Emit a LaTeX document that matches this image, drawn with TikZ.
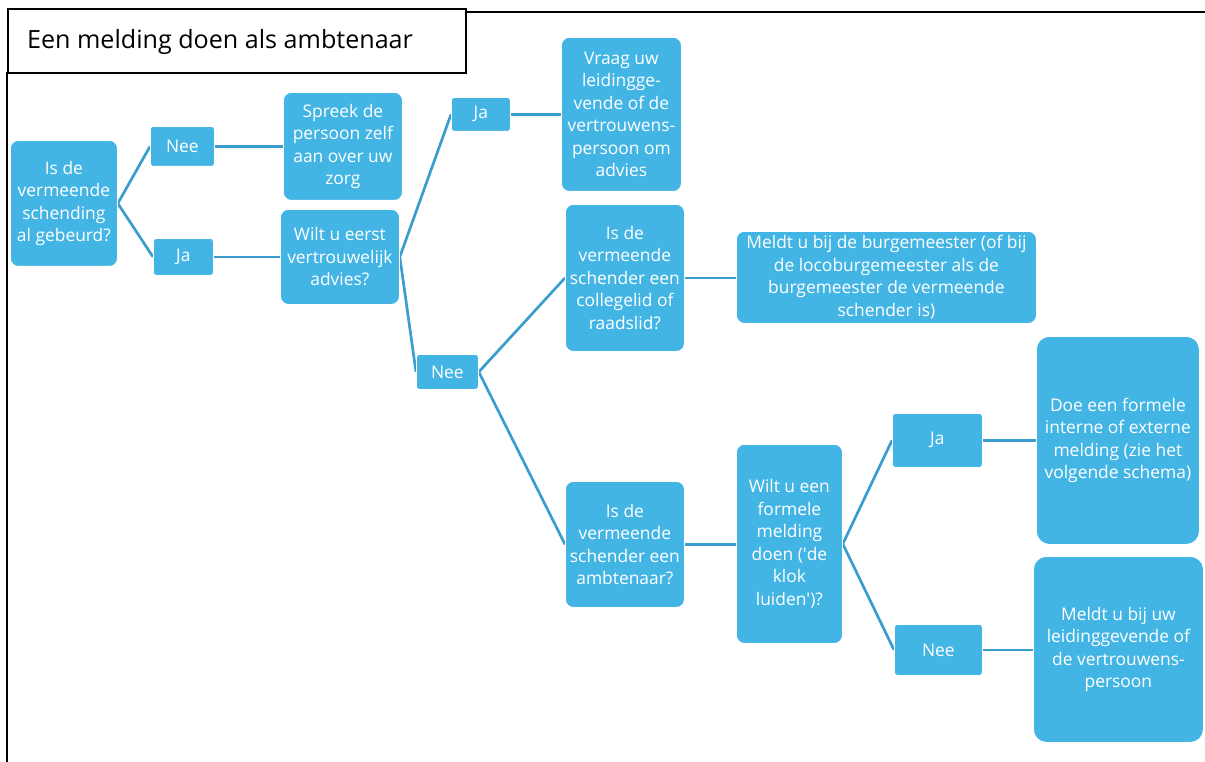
\documentclass[tikz,border=0pt]{standalone}
\usepackage{fontspec}
\setmainfont{Open Sans}
\usetikzlibrary{backgrounds}
\definecolor{boxblue}{HTML}{43B5E5}
\definecolor{linkblue}{HTML}{3A9DCD}
\begin{document}
\begin{tikzpicture}[x=1pt,y=-1pt,
  box/.style={anchor=north west, fill=boxblue, draw=white, line width=0.8pt,
    rounded corners=#1, inner sep=0pt, text=white, align=center,
    font=\fontsize{17.4}{22.5}\selectfont},
  box/.default=8pt,
  link/.style={draw=linkblue, line width=2.7pt}]
\useasboundingbox (0,0) rectangle (1205,762);

% frame and title
\draw[line width=1.6pt] (465,12) -- (1205,12);
\draw[line width=2pt] (7,72) -- (7,762);
\node[draw, line width=2pt, anchor=north west, minimum width=458pt, minimum height=64pt, inner sep=0pt] (title) at (7,8) {};
\node[anchor=base west, inner sep=0pt, font=\fontsize{25.1}{30}\selectfont] (titletext) at (27,49) {Een melding doen als ambtenaar};

% decision boxes and answers
\node[box, minimum width=107pt, minimum height=126pt] (q1) at (10,140) {Is de\\vermeende\\schending\\al gebeurd?};
\node[box=3pt, minimum width=64pt, minimum height=40pt] (nee1) at (150,126) {Nee};
\node[box=3pt, minimum width=60pt, minimum height=37pt] (ja1) at (153,238) {Ja};
\node[box, minimum width=119pt, minimum height=108pt] (spreek) at (283,92) {Spreek de\\persoon zelf\\aan over uw\\zorg};
\node[box, minimum width=119pt, minimum height=95pt] (q2) at (280,209) {Wilt u eerst\\vertrouwelijk\\advies?};
\node[box=3pt, minimum width=59pt, minimum height=34pt] (ja2) at (451,97) {Ja};
\node[box, minimum width=120pt, minimum height=154pt] (vraag) at (561,37) {Vraag uw\\leidingge-\\vende of de\\vertrouwens-\\persoon om\\advies};
\node[box=3pt, minimum width=62pt, minimum height=35pt] (nee2) at (416,354) {Nee};
\node[box, minimum width=119pt, minimum height=147pt] (q3) at (565,204) {Is de\\vermeende\\schender een\\collegelid of\\raadslid?};
\node[box, minimum width=300pt, minimum height=92pt] (burg) at (736,231) {Meldt u bij de burgemeester (of bij\\de locoburgemeester als de\\burgemeester de vermeende\\schender is)};
\node[box, minimum width=119pt, minimum height=126pt] (q4) at (565,481) {Is de\\vermeende\\schender een\\ambtenaar?};
\node[box, minimum width=106pt, minimum height=199pt] (q5) at (736,444) {Wilt u een\\formele\\melding\\doen (\textquotesingle de\\klok\\luiden\textquotesingle)?};
\node[box=3pt, minimum width=90pt, minimum height=54pt] (ja3) at (892,413) {Ja};
\node[box=13pt, minimum width=163pt, minimum height=208pt] (doe) at (1036,336) {Doe een formele\\interne of externe\\melding (zie het\\volgende schema)};
\node[box=3pt, minimum width=88pt, minimum height=51pt] (nee3) at (894,624) {Nee};
\node[box=13pt, minimum width=170pt, minimum height=186pt] (meldt) at (1033,556) {Meldt u bij uw\\leidinggevende of\\de vertrouwens-\\persoon};

% connectors behind the boxes
\begin{scope}[on background layer]
  \draw[link] (nee1.west) -- (q1.east) -- (ja1.west);
  \draw[link] (nee1.east) -- (spreek.west |- nee1.east);
  \draw[link] (ja1.east) -- (q2.west |- ja1.east);
  \draw[link] (ja2.west) -- (q2.east) -- (nee2.west);
  \draw[link] (ja2.east) -- (vraag.west |- ja2.east);
  \draw[link] (q3.west) -- (nee2.east) -- (q4.west);
  \draw[link] (q3.east) -- (burg.west |- q3.east);
  \draw[link] (q4.east) -- (q5.west |- q4.east);
  \draw[link] (ja3.west) -- (q5.east) -- (nee3.west);
  \draw[link] (ja3.east) -- (doe.west |- ja3.east);
  \draw[link] (nee3.east) -- (meldt.west |- nee3.east);
\end{scope}
\end{tikzpicture}
\end{document}
